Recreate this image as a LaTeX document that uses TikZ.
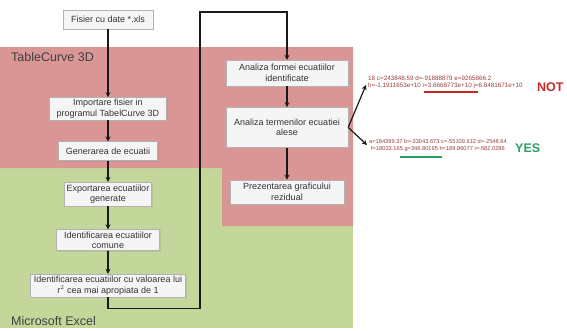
\documentclass[tikz,border=0pt]{standalone}
\usepackage{fontspec}
\setmainfont{Liberation Sans}
\usepackage{xcolor}
\usepackage{tikz}
\usetikzlibrary{arrows.meta,positioning,shadows}

\definecolor{tcred}{RGB}{218,150,148}
\definecolor{xlgreen}{RGB}{196,215,155}
\definecolor{notred}{RGB}{200,40,40}
\definecolor{yesgreen}{RGB}{40,160,100}
\definecolor{valtext}{RGB}{150,60,60}

\begin{document}
\begin{tikzpicture}[x=1pt, y=-1pt, every node/.style={font=\fontsize{9}{10.5}\selectfont, text=black!80},
  box/.style={draw=black!30, fill=black!4, align=center, inner xsep=1pt, inner ysep=2pt,
    minimum height=19pt, drop shadow={opacity=0.2, shadow xshift=1pt, shadow yshift=-1pt}},
  zone/.style={font=\fontsize{12.5}{14}\selectfont, text=black!75, anchor=west, inner sep=0pt},
  vals/.style={font=\fontsize{6.3}{7.2}\selectfont, text=valtext, anchor=west, inner sep=0pt},
  verdict/.style={font=\fontsize{12.5}{14}\selectfont\bfseries, anchor=west, inner sep=0pt},
  arr/.style={-{Stealth[length=5pt,width=5pt]}, line width=1.2pt, black!90}]
\useasboundingbox (0,0) rectangle (567,330);
% software zones
\fill[xlgreen] (0,168) rectangle (353,328);
\fill[tcred] (0,47) -- (353,47) -- (353,226) -- (222,226) -- (222,168) -- (0,168) -- cycle;
\node[zone] (tc) at (11,57) {TableCurve 3D};
\node[zone] (ms) at (11,321) {Microsoft Excel};
% left column
\node[box, minimum width=90pt] (fis) at (108,19.5) {Fisier cu date *.xls};
\node[box, minimum width=117pt, minimum height=21pt, below=68pt of fis] (imp) {Importare fisier in\\programul TabelCurve 3D};
\node[box, minimum width=99pt, below=21pt of imp] (gen) {Generarea de ecuatii};
\node[box, minimum width=87pt, minimum height=24pt, below=21pt of gen] (exp) {Exportarea ecuatiilor\\generate};
\node[box, minimum width=103pt, minimum height=21pt, below=23pt of exp] (ide) {Identificarea ecuatiilor\\comune};
\node[box, minimum width=155pt, minimum height=23pt, below=23pt of ide] (idr) {Identificarea ecuatiilor cu valoarea lui\\r$^{2}$ cea mai apropiata de 1};
% right column
\node[box, minimum width=122pt, minimum height=26pt] (af) at (287,73) {Analiza formei ecuatiilor\\identificate};
\node[box, minimum width=122pt, minimum height=40pt, below=21pt of af] (at) {Analiza termenilor ecuatiei\\alese};
\node[box, minimum width=114pt, minimum height=24pt, below=32pt of at] (pg) {Prezentarea graficului\\rezidual};
% results
\node[vals, align=left] (notval) at (368,82) {18 c=243848.59 d=-91888879 e=9265866.2\\h=-1.1911653e+10 i=3.6668773e+10 j=6.8481671e+10};
\node[vals, align=center, font=\fontsize{5.7}{7}\selectfont] (yesval) at (369,146) {a=184399.37 b=-33043.673 c=-55109.612 d=-2548.64\\f=18033.165 g=346.80195 h=189.86077 i=-582.0286};
\node[verdict, text=notred] (nt) at (537,87) {NOT};
\node[verdict, text=yesgreen] (ys) at (515,148) {YES};
\draw[notred, line width=1.8pt] (424,92) -- (478,92);
\draw[yesgreen, line width=1.8pt] (400,157) -- (442,157);
% flow
\coordinate (loopup) at (200,12);
\draw[arr] (fis) -- (imp);
\draw[arr] (imp) -- (gen);
\draw[arr] (gen) -- (exp);
\draw[arr] (exp) -- (ide);
\draw[arr] (ide) -- (idr);
\draw[arr] (idr.south) -- ++(0,11) -| (loopup) -| (af.north);
\draw[arr] (af) -- (at);
\draw[arr] (at) -- (pg);
\draw[arr] (at.east) -- ([xshift=-2pt,yshift=-3pt]notval.west);
\draw[arr] (at.east) -- ([xshift=-2pt,yshift=1pt]yesval.west);
\end{tikzpicture}
\end{document}
